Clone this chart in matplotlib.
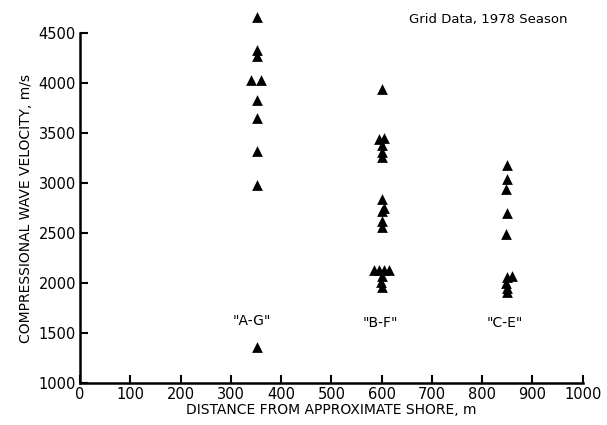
import matplotlib.pyplot as plt
import numpy as np

# Seismic refraction lines, grid data from the 1978 season
ag_x = [352, 352, 352, 340, 360, 352, 352, 352, 352, 352]
ag_v = [4660, 4330, 4270, 4030, 4030, 3830, 3650, 3320, 2980, 1360]

bf_x = [600, 595, 605, 600, 600, 600, 600, 604, 600, 600, 600,
        585, 595, 605, 615, 600, 598, 600]
bf_v = [3940, 3440, 3450, 3380, 3310, 3260, 2840, 2750, 2720, 2620, 2560,
        2130, 2130, 2130, 2130, 2070, 2010, 1960]

ce_x = [850, 850, 848, 850, 848, 850, 860, 848, 850, 850]
ce_v = [3180, 3040, 2940, 2700, 2490, 2060, 2070, 2000, 1950, 1910]

group_labels = ['"A-G"', '"B-F"', '"C-E"']
label_x = [342, 598, 845]
label_y = [1620, 1600, 1600]

fig = plt.figure(figsize=(6.07, 4.25), dpi=100)
ax = fig.add_axes([0.132, 0.099, 0.828, 0.823])

for xs, vs in [(ag_x, ag_v), (bf_x, bf_v), (ce_x, ce_v)]:
    ax.scatter(xs, vs, marker='^', s=60, color='black', linewidths=0,
               zorder=3, clip_on=False)

for lab, lx, ly in zip(group_labels, label_x, label_y):
    ax.text(lx, ly, lab, ha='center', va='center', fontsize=10)

ax.set_xlim(0, 1000)
ax.set_ylim(1000, 4500)
ax.set_xticks(np.arange(0, 1001, 100))
ax.set_yticks(np.arange(1000, 4501, 500))
for side in ['top', 'right']:
    ax.spines[side].set_visible(False)
for side in ['left', 'bottom']:
    ax.spines[side].set_linewidth(1.8)
ax.tick_params(direction='in', length=6, width=1.5, labelsize=10.5, pad=3)
ax.set_xlabel('DISTANCE FROM APPROXIMATE SHORE, m', fontsize=10, labelpad=1)
ax.set_ylabel('COMPRESSIONAL WAVE VELOCITY, m/s', fontsize=10, labelpad=4)

fig.text(0.805, 0.953, 'Grid Data, 1978 Season', ha='center', va='center', fontsize=9.5)

fig.savefig('out.png', dpi=100)
